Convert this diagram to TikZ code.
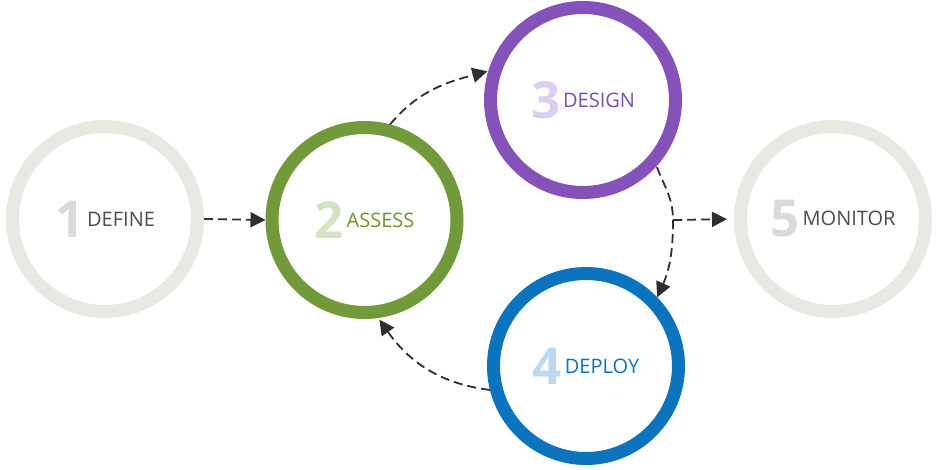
\documentclass[tikz,border=0pt]{standalone}
\usepackage{fontspec}
\setmainfont{Open Sans}
\usetikzlibrary{arrows.meta}
\definecolor{grayring}{HTML}{E9E8E3}
\definecolor{graynum}{HTML}{D9DADB}
\definecolor{graylab}{HTML}{4D4D4F}
\definecolor{greenring}{HTML}{72993A}
\definecolor{greennum}{HTML}{D6E3C2}
\definecolor{greenlab}{HTML}{6C9530}
\definecolor{purplering}{HTML}{8452B8}
\definecolor{purplenum}{HTML}{DCCEEF}
\definecolor{purplelab}{HTML}{7D4DB0}
\definecolor{bluering}{HTML}{0C73BF}
\definecolor{bluenum}{HTML}{BCD9F0}
\definecolor{bluelab}{HTML}{0D72BE}
\newcommand{\stagetext}[4]{{\color{#1}\bfseries\fontsize{51}{51}\selectfont #2}\hspace{3pt}\raisebox{11pt}{\color{#3}\fontsize{20}{20}\selectfont #4}}
\tikzset{
  ring/.style={circle, line width=13pt, minimum size=185pt, inner sep=0pt, fill=white},
  flow/.style={draw=black!82, line width=1.8pt, dash pattern=on 9pt off 5pt,
    -{Triangle[length=15pt,width=15pt]}},
}
\begin{document}
\begin{tikzpicture}[x=1pt,y=-1pt]
\useasboundingbox[fill=white] (0,0) rectangle (937,470);
\node[ring, draw=grayring] (c1) at (105,219) {\stagetext{graynum}{1}{graylab}{DEFINE}};
\node[ring, draw=greenring] (c2) at (364.5,220) {\stagetext{greennum}{2}{greenlab}{ASSESS}};
\node[ring, draw=purplering] (c3) at (583,100) {\stagetext{purplenum}{3}{purplelab}{DESIGN}};
\node[ring, draw=bluering] (c4) at (586,366) {\stagetext{bluenum}{4}{bluelab}{DEPLOY}};
\node[ring, draw=grayring] (c5) at (833,219) {\stagetext{graynum}{5}{graylab}{MONITOR}};
\coordinate (br) at (673,220);
\draw[flow, shorten <=0pt] (c1.east) -- (c2.west);
\draw[flow, shorten >=1pt] (c2.75) to[out=50, in=195] (c3.163);
\draw[flow, -, shorten <=1pt] (c3.-42) to[out=-69, in=90] (br);
\draw[flow] (br) to[out=-90, in=66] (c4.44);
\draw[flow, shorten >=7pt] (br) -- (c5.west);
\draw[flow, shorten >=2pt] (c4.194) to[out=173, in=-55] (c2.-82);
\end{tikzpicture}
\end{document}
